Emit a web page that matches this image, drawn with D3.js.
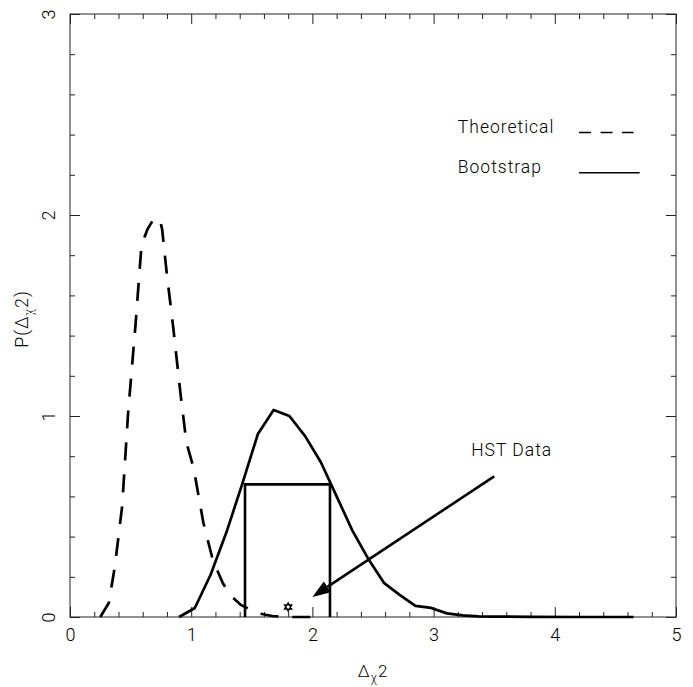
<!DOCTYPE html>
<html>
<head>
<meta charset="utf-8">
<script src="https://cdn.jsdelivr.net/npm/d3@7"></script>
<style>
  body { margin: 0; background: #fff; }
  text { font-family: Roboto, "DejaVu Sans", sans-serif; font-weight: 300; fill: #000; letter-spacing: 1px; }
</style>
</head>
<body>
<svg id="chart" width="693" height="687"></svg>
<script>
// theoretical distribution (dashed)
let theoX = [0.25, 0.32, 0.37, 0.43, 0.48, 0.54, 0.59, 0.64, 0.69, 0.74, 0.76, 0.80, 0.85, 0.91, 0.96, 1.02, 1.10, 1.18, 1.26, 1.32, 1.41, 1.54, 1.67, 1.80, 2.00]
let theoY = [0.00, 0.07, 0.25, 0.55, 1.02, 1.45, 1.85, 1.93, 1.98, 1.98, 1.93, 1.70, 1.45, 1.12, 0.87, 0.74, 0.47, 0.28, 0.17, 0.11, 0.06, 0.02, 0.005, 0.0, 0.0]

// bootstrap distribution (solid)
let bootX = [0.90, 1.03, 1.16, 1.29, 1.42, 1.55, 1.68, 1.81, 1.94, 2.07, 2.20, 2.33, 2.46, 2.59, 2.72, 2.85, 2.98, 3.11, 3.24, 3.37, 3.50, 3.80, 4.20, 4.65]
let bootY = [0.00, 0.045, 0.21, 0.42, 0.66, 0.91, 1.03, 1.00, 0.90, 0.77, 0.60, 0.43, 0.29, 0.17, 0.11, 0.055, 0.045, 0.018, 0.008, 0.003, 0.002, 0.001, 0.0, 0.0]

// confidence box, HST point, arrow
let boxX = [1.444, 2.145]
let boxTop = 0.66
let hstPoint = [1.80, 0.05]
let arrowFrom = [3.5, 0.70]
let arrowTo = [2.0, 0.10]

let xMajor = [0, 1, 2, 3, 4, 5]
let yMajor = [0, 1, 2, 3]

let svg = d3.select("#chart")
let mLeft = 70, mRight = 676, mTop = 14, mBottom = 617

let x = d3.scaleLinear().domain([0, 5]).range([mLeft, mRight])
let y = d3.scaleLinear().domain([0, 3]).range([mBottom, mTop])

let xMinor = d3.range(0, 5.001, 0.2).filter(v => Math.abs(v - Math.round(v)) > 0.01)
let yMinor = d3.range(0, 3.001, 0.2).filter(v => Math.abs(v - Math.round(v)) > 0.01)

// frame
svg.append("rect")
  .attr("x", mLeft).attr("y", mTop)
  .attr("width", mRight - mLeft).attr("height", mBottom - mTop)
  .attr("fill", "none").attr("stroke", "#222").attr("stroke-width", 1)

function ticks(axis, vals, size, transform, labels) {
  let g = svg.append("g")
    .attr("transform", transform)
    .call(axis.tickValues(vals).tickSize(-size).tickFormat(labels ? d3.format("d") : ""))
  g.select(".domain").remove()
  g.selectAll("line").attr("stroke", "#222")
  g.selectAll("text").style("font-size", "18px").attr("fill", "#000")
    .style("font-family", "Roboto, sans-serif").style("letter-spacing", "0px")
  return g
}

let xb = ticks(d3.axisBottom(x), xMajor, 10, `translate(0,${mBottom})`, true)
xb.selectAll("text").attr("y", 24).attr("dy", 0)
ticks(d3.axisBottom(x), xMinor, 5, `translate(0,${mBottom})`, false)
ticks(d3.axisTop(x), xMajor, 10, `translate(0,${mTop})`, false)
ticks(d3.axisTop(x), xMinor, 5, `translate(0,${mTop})`, false)

let yl = ticks(d3.axisLeft(y), yMajor, 10, `translate(${mLeft},0)`, true)
yl.selectAll("text")
  .attr("x", 0).attr("dy", 0)
  .attr("text-anchor", "middle")
  .attr("transform", "translate(-15,0) rotate(-90)")
ticks(d3.axisLeft(y), yMinor, 5, `translate(${mLeft},0)`, false)
ticks(d3.axisRight(y), yMajor, 10, `translate(${mRight},0)`, false)
ticks(d3.axisRight(y), yMinor, 5, `translate(${mRight},0)`, false)

// axis titles
let xt = svg.append("text")
  .attr("x", (mLeft + mRight) / 2).attr("y", 677)
  .attr("text-anchor", "middle").style("font-size", "17px")
xt.append("tspan").text("Δ")
xt.append("tspan").text("χ").style("font-size", "12px").attr("dy", 5)
xt.append("tspan").text("2").attr("dy", -5)

let yt = svg.append("text")
  .attr("transform", `translate(28,319) rotate(-90)`)
  .attr("text-anchor", "middle").style("font-size", "18px")
yt.append("tspan").text("P(Δ")
yt.append("tspan").text("χ").style("font-size", "12px").attr("dy", 5)
yt.append("tspan").text("2)").attr("dy", -5)

// curves
let line = d3.line().x(d => x(d[0])).y(d => y(d[1]))

svg.append("path")
  .datum(d3.zip(theoX, theoY))
  .attr("d", line)
  .attr("fill", "none").attr("stroke", "#000")
  .attr("stroke-width", 2.7).attr("stroke-dasharray", "18,14")

svg.append("path")
  .datum(d3.zip(bootX, bootY))
  .attr("d", line)
  .attr("fill", "none").attr("stroke", "#000")
  .attr("stroke-width", 2.7).attr("stroke-linejoin", "round")

// box
svg.append("path")
  .attr("d", d3.line()([[x(boxX[0]), y(0)], [x(boxX[0]), y(boxTop)], [x(boxX[1]), y(boxTop)], [x(boxX[1]), y(0)]]))
  .attr("fill", "none").attr("stroke", "#000").attr("stroke-width", 2.6)

// HST point (hexagram)
let sx = x(hstPoint[0]), sy = y(hstPoint[1]), r = 4.2
function tri(rot) {
  return d3.range(3).map(i => {
    let a = rot + i * 2 * Math.PI / 3
    return [sx + r * Math.sin(a), sy - r * Math.cos(a)]
  })
}
svg.append("path")
  .attr("d", d3.line()(tri(0)) + "Z" + d3.line()(tri(Math.PI)) + "Z")
  .attr("fill", "none").attr("stroke", "#000").attr("stroke-width", 1.3)

// arrow
let ax0 = x(arrowFrom[0]), ay0 = y(arrowFrom[1]), ax1 = x(arrowTo[0]), ay1 = y(arrowTo[1])
let len = Math.hypot(ax1 - ax0, ay1 - ay0)
let ux = (ax1 - ax0) / len, uy = (ay1 - ay0) / len
let hl = 18, hw = 6.5
let bx = ax1 - ux * hl, by = ay1 - uy * hl
svg.append("line")
  .attr("x1", ax0).attr("y1", ay0).attr("x2", bx).attr("y2", by)
  .attr("stroke", "#000").attr("stroke-width", 2.6)
svg.append("path")
  .attr("d", d3.line()([[ax1, ay1], [bx - uy * hw, by + ux * hw], [bx + uy * hw, by - ux * hw]]) + "Z")
  .attr("fill", "#000")

svg.append("text")
  .attr("x", x(3.31)).attr("y", y(0.80))
  .style("font-size", "17.5px").text("HST Data")

// legend
svg.append("text").attr("x", x(3.2)).attr("y", y(2.41)).style("font-size", "17.5px").text("Theoretical")
svg.append("text").attr("x", x(3.2)).attr("y", y(2.21)).style("font-size", "17.5px").text("Bootstrap")
svg.append("line")
  .attr("x1", x(4.2)).attr("x2", x(4.65)).attr("y1", y(2.41)).attr("y2", y(2.41))
  .attr("stroke", "#000").attr("stroke-width", 1.5).attr("stroke-dasharray", "12,9.5")
svg.append("line")
  .attr("x1", x(4.2)).attr("x2", x(4.70)).attr("y1", y(2.21)).attr("y2", y(2.21))
  .attr("stroke", "#000").attr("stroke-width", 1.5)
</script>
</body>
</html>
